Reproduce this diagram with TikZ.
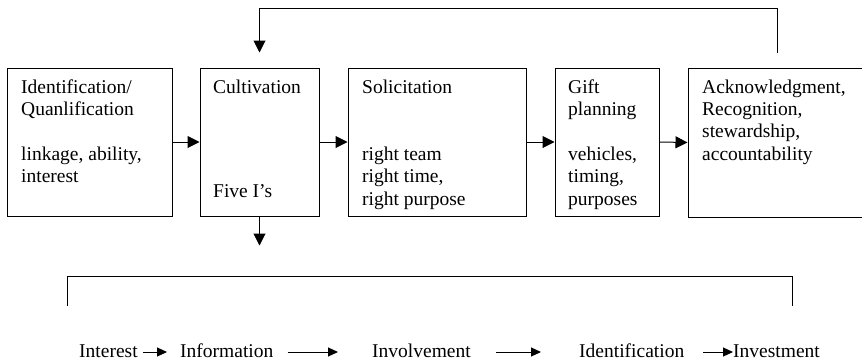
\documentclass[tikz,border=0pt]{standalone}
\usepackage{fontspec}
\setmainfont{Liberation Serif}
\usetikzlibrary{arrows.meta,calc}
\newcommand{\blk}[1]{\vtop{\baselineskip=22.4pt\lineskiplimit=-20pt #1}}
\begin{document}
\begin{tikzpicture}[x=1pt,y=-1pt,
  font=\fontsize{19.5}{22.4}\selectfont,
  box/.style={draw, line width=1pt, inner sep=0pt, minimum height=148pt},
  txt/.style={inner sep=0pt, anchor=base west},
  arr/.style={line width=1pt, -{Triangle[length=12pt,width=12pt]}},
  sarr/.style={line width=1pt, -{Triangle[length=10pt,width=9pt]}},
  wd/.style={inner sep=0pt, text height=10pt, text depth=0pt, anchor=base west}]
\useasboundingbox (0,0) rectangle (862,362);

% boxes
\node[box, minimum width=165pt] (b1) at (89.5,142) {};
\node[box, minimum width=119pt] (b2) at (259.5,142) {};
\node[box, minimum width=178pt] (b3) at (437,142) {};
\node[box, minimum width=104pt] (b4) at (607,142) {};
\node[box, minimum width=192pt, minimum height=149pt] (b5) at (784,142.5) {};

% box texts
\node[txt] (t1) at (21,93) {\blk{\hbox{Identification/}\hbox{Quanlification}\hbox{}\hbox{linkage, ability,}\hbox{interest}}};
\node[txt] (t2a) at (213,93) {Cultivation};
\node[txt] (t2b) at (213,197) {Five I’s};
\node[txt] (t3) at (362,93) {\blk{\hbox{Solicitation}\hbox{}\hbox{}\hbox{right team}\hbox{right time,}\hbox{right purpose}}};
\node[txt] (t4) at (568,93) {\blk{\hbox{Gift}\hbox{planning}\hbox{}\hbox{vehicles,}\hbox{timing,}\hbox{purposes}}};
\node[txt] (t5) at (702,93) {\blk{\hbox{Acknowledgment,}\hbox{Recognition,}\hbox{stewardship,}\hbox{accountability}}};

% horizontal arrows
\draw[arr] (b1.east) -- (b2.west);
\draw[arr] (b2.east) -- (b3.west);
\draw[arr] (b3.east) -- (b4.west);
\draw[arr] (b4.east) -- (b5.west);

% feedback loop
\coordinate (fb) at (777,53);
\draw[arr] (fb) |- ($(b2.north)+(0,-59)$) -- ($(b2.north)+(0,-15)$);

% down arrow
\coordinate (dn) at ($(b2.south)+(0,29)$);
\draw[arr] (b2.south) -- (dn);

% bracket
\coordinate (bl) at (67,306);
\coordinate (br) at (792,306);
\coordinate (bt) at (0,276);
\draw[line width=1pt] (bl) |- (br |- bt) -- (br);

% bottom sequence
\node[wd] (w1) at (79,357) {Interest};
\node[wd] (w2) at (180,357) {Information};
\node[wd] (w3) at (372,357) {Involvement};
\node[wd] (w4) at (579,357) {Identification};
\node[wd] (w5) at (733,357) {Investment};
\draw[sarr, shorten <=5pt, shorten >=13pt] (w1) -- (w2);
\draw[sarr, shorten <=14pt, shorten >=34pt] (w2) -- (w3);
\draw[sarr, shorten <=25pt, shorten >=38pt] (w3) -- (w4);
\draw[sarr, shorten <=19pt, shorten >=0pt] (w4) -- (w5);
\end{tikzpicture}
\end{document}
